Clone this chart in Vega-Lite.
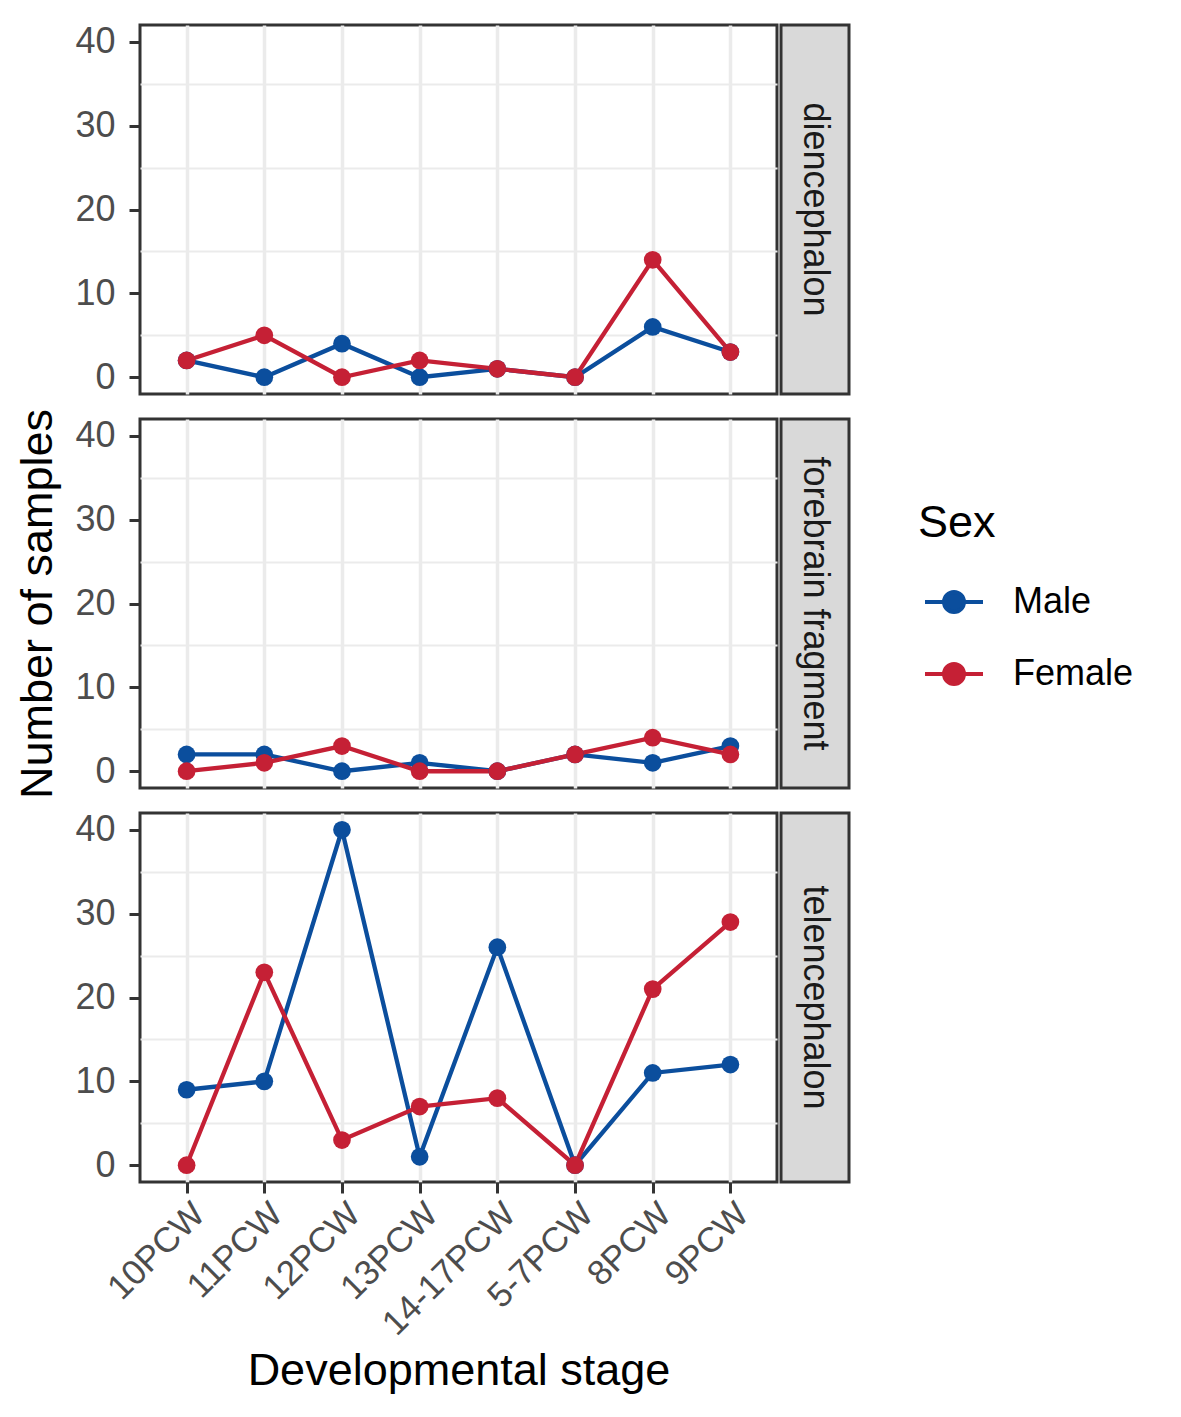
{
  "$schema": "https://vega.github.io/schema/vega-lite/v6.json",
  "description": "Number of samples per developmental stage, by sex and brain region",
  "background": "white",
  "padding": {"left": 14, "top": 22, "right": 324, "bottom": 10},
  "datasets": {
    "counts": [
      {"region": "diencephalon", "sex": "Male", "stage": "10PCW", "n": 2},
      {"region": "diencephalon", "sex": "Male", "stage": "11PCW", "n": 0},
      {"region": "diencephalon", "sex": "Male", "stage": "12PCW", "n": 4},
      {"region": "diencephalon", "sex": "Male", "stage": "13PCW", "n": 0},
      {"region": "diencephalon", "sex": "Male", "stage": "14-17PCW", "n": 1},
      {"region": "diencephalon", "sex": "Male", "stage": "5-7PCW", "n": 0},
      {"region": "diencephalon", "sex": "Male", "stage": "8PCW", "n": 6},
      {"region": "diencephalon", "sex": "Male", "stage": "9PCW", "n": 3},
      {"region": "diencephalon", "sex": "Female", "stage": "10PCW", "n": 2},
      {"region": "diencephalon", "sex": "Female", "stage": "11PCW", "n": 5},
      {"region": "diencephalon", "sex": "Female", "stage": "12PCW", "n": 0},
      {"region": "diencephalon", "sex": "Female", "stage": "13PCW", "n": 2},
      {"region": "diencephalon", "sex": "Female", "stage": "14-17PCW", "n": 1},
      {"region": "diencephalon", "sex": "Female", "stage": "5-7PCW", "n": 0},
      {"region": "diencephalon", "sex": "Female", "stage": "8PCW", "n": 14},
      {"region": "diencephalon", "sex": "Female", "stage": "9PCW", "n": 3},
      {"region": "forebrain fragment", "sex": "Male", "stage": "10PCW", "n": 2},
      {"region": "forebrain fragment", "sex": "Male", "stage": "11PCW", "n": 2},
      {"region": "forebrain fragment", "sex": "Male", "stage": "12PCW", "n": 0},
      {"region": "forebrain fragment", "sex": "Male", "stage": "13PCW", "n": 1},
      {"region": "forebrain fragment", "sex": "Male", "stage": "14-17PCW", "n": 0},
      {"region": "forebrain fragment", "sex": "Male", "stage": "5-7PCW", "n": 2},
      {"region": "forebrain fragment", "sex": "Male", "stage": "8PCW", "n": 1},
      {"region": "forebrain fragment", "sex": "Male", "stage": "9PCW", "n": 3},
      {"region": "forebrain fragment", "sex": "Female", "stage": "10PCW", "n": 0},
      {"region": "forebrain fragment", "sex": "Female", "stage": "11PCW", "n": 1},
      {"region": "forebrain fragment", "sex": "Female", "stage": "12PCW", "n": 3},
      {"region": "forebrain fragment", "sex": "Female", "stage": "13PCW", "n": 0},
      {"region": "forebrain fragment", "sex": "Female", "stage": "14-17PCW", "n": 0},
      {"region": "forebrain fragment", "sex": "Female", "stage": "5-7PCW", "n": 2},
      {"region": "forebrain fragment", "sex": "Female", "stage": "8PCW", "n": 4},
      {"region": "forebrain fragment", "sex": "Female", "stage": "9PCW", "n": 2},
      {"region": "telencephalon", "sex": "Male", "stage": "10PCW", "n": 9},
      {"region": "telencephalon", "sex": "Male", "stage": "11PCW", "n": 10},
      {"region": "telencephalon", "sex": "Male", "stage": "12PCW", "n": 40},
      {"region": "telencephalon", "sex": "Male", "stage": "13PCW", "n": 1},
      {"region": "telencephalon", "sex": "Male", "stage": "14-17PCW", "n": 26},
      {"region": "telencephalon", "sex": "Male", "stage": "5-7PCW", "n": 0},
      {"region": "telencephalon", "sex": "Male", "stage": "8PCW", "n": 11},
      {"region": "telencephalon", "sex": "Male", "stage": "9PCW", "n": 12},
      {"region": "telencephalon", "sex": "Female", "stage": "10PCW", "n": 0},
      {"region": "telencephalon", "sex": "Female", "stage": "11PCW", "n": 23},
      {"region": "telencephalon", "sex": "Female", "stage": "12PCW", "n": 3},
      {"region": "telencephalon", "sex": "Female", "stage": "13PCW", "n": 7},
      {"region": "telencephalon", "sex": "Female", "stage": "14-17PCW", "n": 8},
      {"region": "telencephalon", "sex": "Female", "stage": "5-7PCW", "n": 0},
      {"region": "telencephalon", "sex": "Female", "stage": "8PCW", "n": 21},
      {"region": "telencephalon", "sex": "Female", "stage": "9PCW", "n": 29}
    ]
  },
  "data": {"name": "counts"},
  "spacing": 9,
  "vconcat": [
    {
      "spacing": 0,
      "hconcat": [
        {
          "width": 637,
          "height": 369,
          "view": {"stroke": "#333333", "strokeWidth": 3},
          "transform": [{"filter": {"field": "region", "equal": "diencephalon"}}],
          "layer": [
            {
              "mark": {"type": "point", "opacity": 0},
              "encoding": {
                "y": {"field": "n", "type": "quantitative", "scale": {"domain": [-2, 42], "nice": false, "zero": false},
                  "axis": {"orient": "left", "values": [5, 15, 25, 35], "grid": true, "gridWidth": 2, "labels": false, "ticks": false, "title": null, "minExtent": 0, "maxExtent": 0}}
              }
            },
            {
              "encoding": {
                "x": {"field": "stage", "type": "nominal",
                  "scale": {"type": "point", "padding": 0.6, "domain": ["10PCW", "11PCW", "12PCW", "13PCW", "14-17PCW", "5-7PCW", "8PCW", "9PCW"]},
                  "axis": {"labels": false, "ticks": false, "title": null, "tickSize": 0, "labelPadding": 0, "minExtent": 0, "maxExtent": 0}},
                "y": {"field": "n", "type": "quantitative", "scale": {"domain": [-2, 42], "nice": false, "zero": false},
                  "axis": {"orient": "left", "values": [0, 10, 20, 30, 40], "title": null}},
                "color": {"field": "sex", "type": "nominal", "scale": {"domain": ["Male", "Female"], "range": ["#0B4E9D", "#C52035"]},
                  "legend": {
                    "orient": "none", "legendX": 778, "legendY": 476, "padding": 0,
                    "title": "Sex", "titleFontSize": 45, "titleFontWeight": "normal", "titleColor": "black", "titlePadding": 25,
                    "labelFontSize": 36, "labelColor": "black", "labelOffset": 28,
                    "symbolType": "M-1,0H1M-0.345,0A0.345,0.345,0,1,1,0.345,0A0.345,0.345,0,1,1,-0.345,0Z",
                    "symbolSize": 3364, "symbolStrokeWidth": 4, "symbolOffset": 5,
                    "rowPadding": 22,
                    "encode": {"symbols": {"update": {
                      "fill": {"scale": "color", "field": "value"},
                      "stroke": {"scale": "color", "field": "value"},
                      "strokeWidth": {"value": 4},
                      "opacity": {"value": 1}
                    }}}
                  }}
              },
              "layer": [
                {"mark": {"type": "line", "strokeWidth": 4.3}},
                {"mark": {"type": "point", "filled": true, "size": 314, "opacity": 1}}
              ]
            }
          ],
          "resolve": {"axis": {"y": "independent"}}
        },
        {
          "width": 68,
          "height": 369,
          "data": {"values": [{"region": "diencephalon"}]},
          "view": {"fill": "#D9D9D9", "stroke": "#333333", "strokeWidth": 3},
          "mark": {"type": "text", "angle": 90, "fontSize": 36, "color": "#1A1A1A", "align": "center", "baseline": "middle"},
          "encoding": {
            "text": {"field": "region"},
            "x": {"datum": 0.5, "type": "quantitative", "scale": {"domain": [0, 1]}, "axis": null},
            "y": {"datum": 0.5, "type": "quantitative", "scale": {"domain": [0, 1]}, "axis": null}
          }
        }
      ]
    },
    {
      "spacing": 0,
      "hconcat": [
        {
          "width": 637,
          "height": 369,
          "view": {"stroke": "#333333", "strokeWidth": 3},
          "transform": [{"filter": {"field": "region", "equal": "forebrain fragment"}}],
          "layer": [
            {
              "mark": {"type": "point", "opacity": 0},
              "encoding": {
                "y": {"field": "n", "type": "quantitative", "scale": {"domain": [-2, 42], "nice": false, "zero": false},
                  "axis": {"orient": "left", "values": [5, 15, 25, 35], "grid": true, "gridWidth": 2, "labels": false, "ticks": false, "title": null, "minExtent": 0, "maxExtent": 0}}
              }
            },
            {
              "encoding": {
                "x": {"field": "stage", "type": "nominal",
                  "scale": {"type": "point", "padding": 0.6, "domain": ["10PCW", "11PCW", "12PCW", "13PCW", "14-17PCW", "5-7PCW", "8PCW", "9PCW"]},
                  "axis": {"labels": false, "ticks": false, "title": null, "tickSize": 0, "labelPadding": 0, "minExtent": 0, "maxExtent": 0}},
                "y": {"field": "n", "type": "quantitative", "scale": {"domain": [-2, 42], "nice": false, "zero": false},
                  "axis": {"orient": "left", "values": [0, 10, 20, 30, 40], "title": "Number of samples", "titlePadding": 14}},
                "color": {"field": "sex", "type": "nominal", "scale": {"domain": ["Male", "Female"], "range": ["#0B4E9D", "#C52035"]},
                  "legend": {
                    "orient": "none", "legendX": 778, "legendY": 476, "padding": 0,
                    "title": "Sex", "titleFontSize": 45, "titleFontWeight": "normal", "titleColor": "black", "titlePadding": 25,
                    "labelFontSize": 36, "labelColor": "black", "labelOffset": 28,
                    "symbolType": "M-1,0H1M-0.345,0A0.345,0.345,0,1,1,0.345,0A0.345,0.345,0,1,1,-0.345,0Z",
                    "symbolSize": 3364, "symbolStrokeWidth": 4, "symbolOffset": 5,
                    "rowPadding": 22,
                    "encode": {"symbols": {"update": {
                      "fill": {"scale": "color", "field": "value"},
                      "stroke": {"scale": "color", "field": "value"},
                      "strokeWidth": {"value": 4},
                      "opacity": {"value": 1}
                    }}}
                  }}
              },
              "layer": [
                {"mark": {"type": "line", "strokeWidth": 4.3}},
                {"mark": {"type": "point", "filled": true, "size": 314, "opacity": 1}}
              ]
            }
          ],
          "resolve": {"axis": {"y": "independent"}}
        },
        {
          "width": 68,
          "height": 369,
          "data": {"values": [{"region": "forebrain fragment"}]},
          "view": {"fill": "#D9D9D9", "stroke": "#333333", "strokeWidth": 3},
          "mark": {"type": "text", "angle": 90, "fontSize": 36, "color": "#1A1A1A", "align": "center", "baseline": "middle"},
          "encoding": {
            "text": {"field": "region"},
            "x": {"datum": 0.5, "type": "quantitative", "scale": {"domain": [0, 1]}, "axis": null},
            "y": {"datum": 0.5, "type": "quantitative", "scale": {"domain": [0, 1]}, "axis": null}
          }
        }
      ]
    },
    {
      "spacing": 0,
      "hconcat": [
        {
          "width": 637,
          "height": 369,
          "view": {"stroke": "#333333", "strokeWidth": 3},
          "transform": [{"filter": {"field": "region", "equal": "telencephalon"}}],
          "layer": [
            {
              "mark": {"type": "point", "opacity": 0},
              "encoding": {
                "y": {"field": "n", "type": "quantitative", "scale": {"domain": [-2, 42], "nice": false, "zero": false},
                  "axis": {"orient": "left", "values": [5, 15, 25, 35], "grid": true, "gridWidth": 2, "labels": false, "ticks": false, "title": null, "minExtent": 0, "maxExtent": 0}}
              }
            },
            {
              "encoding": {
                "x": {"field": "stage", "type": "nominal",
                  "scale": {"type": "point", "padding": 0.6, "domain": ["10PCW", "11PCW", "12PCW", "13PCW", "14-17PCW", "5-7PCW", "8PCW", "9PCW"]},
                  "axis": {"labelAngle": -45, "labelAlign": "right", "labelBaseline": "top", "labelPadding": 3, "labelFontSize": 35, "title": "Developmental stage", "titlePadding": 7}},
                "y": {"field": "n", "type": "quantitative", "scale": {"domain": [-2, 42], "nice": false, "zero": false},
                  "axis": {"orient": "left", "values": [0, 10, 20, 30, 40], "title": null}},
                "color": {"field": "sex", "type": "nominal", "scale": {"domain": ["Male", "Female"], "range": ["#0B4E9D", "#C52035"]},
                  "legend": {
                    "orient": "none", "legendX": 778, "legendY": 476, "padding": 0,
                    "title": "Sex", "titleFontSize": 45, "titleFontWeight": "normal", "titleColor": "black", "titlePadding": 25,
                    "labelFontSize": 36, "labelColor": "black", "labelOffset": 28,
                    "symbolType": "M-1,0H1M-0.345,0A0.345,0.345,0,1,1,0.345,0A0.345,0.345,0,1,1,-0.345,0Z",
                    "symbolSize": 3364, "symbolStrokeWidth": 4, "symbolOffset": 5,
                    "rowPadding": 22,
                    "encode": {"symbols": {"update": {
                      "fill": {"scale": "color", "field": "value"},
                      "stroke": {"scale": "color", "field": "value"},
                      "strokeWidth": {"value": 4},
                      "opacity": {"value": 1}
                    }}}
                  }}
              },
              "layer": [
                {"mark": {"type": "line", "strokeWidth": 4.3}},
                {"mark": {"type": "point", "filled": true, "size": 314, "opacity": 1}}
              ]
            }
          ],
          "resolve": {"axis": {"y": "independent"}}
        },
        {
          "width": 68,
          "height": 369,
          "data": {"values": [{"region": "telencephalon"}]},
          "view": {"fill": "#D9D9D9", "stroke": "#333333", "strokeWidth": 3},
          "mark": {"type": "text", "angle": 90, "fontSize": 36, "color": "#1A1A1A", "align": "center", "baseline": "middle"},
          "encoding": {
            "text": {"field": "region"},
            "x": {"datum": 0.5, "type": "quantitative", "scale": {"domain": [0, 1]}, "axis": null},
            "y": {"datum": 0.5, "type": "quantitative", "scale": {"domain": [0, 1]}, "axis": null}
          }
        }
      ]
    }
  ],
  "resolve": {"scale": {"color": "shared"}, "legend": {"color": "shared"}},
  "config": {
    "font": "Liberation Sans",
    "view": {"stroke": null},
    "axis": {
      "domain": false,
      "grid": true,
      "gridColor": "#EBEBEB",
      "gridWidth": 3.5,
      "labelFontSize": 36,
      "labelColor": "#4D4D4D",
      "labelPadding": 14,
      "labelOverlap": false,
      "tickColor": "#333333",
      "tickWidth": 3,
      "tickSize": 11,
      "titleFontSize": 45,
      "titleFontWeight": "normal",
      "titleColor": "black"
    },
    "legend": {"titleFont": "Liberation Sans", "labelFont": "Liberation Sans"}
  }
}
